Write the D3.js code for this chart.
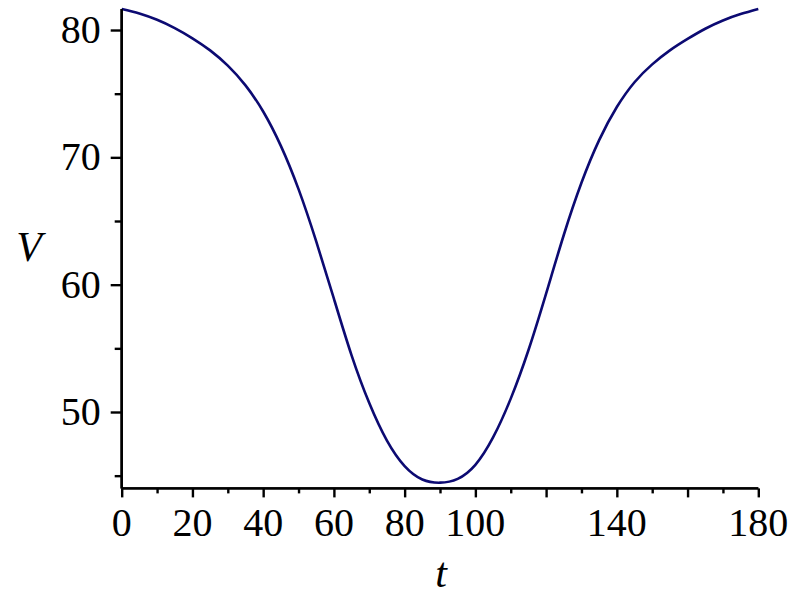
<!DOCTYPE html>
<html>
<head>
<meta charset="utf-8">
<script src="https://cdn.jsdelivr.net/npm/d3@7"></script>
<style>
  html, body { margin: 0; padding: 0; background: #fff; }
  svg { display: block; }
  text { font-family: "Liberation Serif", "Times New Roman", serif; fill: #000; }
</style>
</head>
<body>
<svg id="chart" width="800" height="600"></svg>
<script>
// Data
const tValues = [0, 5, 10, 15, 20, 25, 30, 35, 40, 45, 50, 55, 60, 65, 70, 75, 80, 85, 90,
                 95, 100, 105, 110, 115, 120, 125, 130, 135, 140, 145, 150, 155, 160, 165, 170, 175, 180];
const vValues = [81.65, 81.3, 80.8, 80.15, 79.35, 78.4, 77.2, 75.65, 73.6, 70.9, 67.5, 63.4, 58.9, 54.45, 50.7, 47.75, 45.75, 44.7, 44.45,
                 44.75, 45.85, 48.0, 51.05, 54.85, 59.3, 63.9, 68.0, 71.35, 73.95, 75.9, 77.3, 78.4, 79.3, 80.1, 80.75, 81.25, 81.65];
const xMajorTicks = [0, 20, 40, 60, 80, 100, 120, 140, 160, 180];
const xMinorTicks = [10, 30, 50, 70, 90, 110, 130, 150, 170];
const xTickLabels = [0, 20, 40, 60, 80, 100, 140, 180];
const yMajorTicks = [50, 60, 70, 80];
const yMinorTicks = [45, 55, 65, 75];
const xTitle = "t";
const yTitle = "V";

const svg = d3.select("#chart");
const x = d3.scaleLinear().domain([0, 180]).range([121.7, 758.3]);
const y = d3.scaleLinear().domain([44.0, 81.65]).range([488.4, 9.0]);

const data = tValues.map((t, i) => ({ t, v: vValues[i] }));

// Curve
const line = d3.line().x(d => x(d.t)).y(d => y(d.v)).curve(d3.curveNatural);
svg.append("path")
  .datum(data)
  .attr("d", line)
  .attr("fill", "none")
  .attr("stroke", "#0c0a72")
  .attr("stroke-width", 2.6)
  .attr("stroke-linejoin", "round");

// X axis
const gx = svg.append("g").attr("transform", `translate(0,${y(44.0)})`);
gx.call(d3.axisBottom(x).tickValues(xMajorTicks).tickSize(9).tickFormat(""));
gx.append("g").call(d3.axisBottom(x).tickValues(xMinorTicks).tickSize(5).tickFormat(""));
gx.selectAll(".domain").attr("stroke-width", 2.4).attr("d", `M${x(0)},0H${x(180)}`);
gx.selectAll(".tick line").attr("stroke", "#000").attr("stroke-width", 2.4);
gx.selectAll(".tick text").remove();
gx.selectAll(".xl").data(xTickLabels).enter().append("text")
  .attr("class", "xl")
  .attr("x", d => x(d))
  .attr("y", 48)
  .attr("text-anchor", "middle")
  .attr("font-size", 40)
  .text(d => d);

// Y axis
const gy = svg.append("g").attr("transform", `translate(${x(0)},0)`);
gy.call(d3.axisLeft(y).tickValues(yMajorTicks).tickSize(11).tickFormat(""));
gy.append("g").call(d3.axisLeft(y).tickValues(yMinorTicks).tickSize(7).tickFormat(""));
gy.selectAll(".domain").attr("stroke-width", 2.4).attr("d", `M0,${y(81.65)}V${y(44.0)}`);
gy.selectAll(".tick line").attr("stroke", "#000").attr("stroke-width", 2.4);
gy.selectAll(".yl").data(yMajorTicks).enter().append("text")
  .attr("class", "yl")
  .attr("x", -21)
  .attr("y", d => y(d) + 13)
  .attr("text-anchor", "end")
  .attr("font-size", 40)
  .text(d => d);

// Titles
svg.append("text")
  .attr("x", 441).attr("y", 587)
  .attr("text-anchor", "middle")
  .attr("font-size", 42)
  .attr("font-style", "italic")
  .text(xTitle);
svg.append("text")
  .attr("x", 29).attr("y", 261)
  .attr("text-anchor", "middle")
  .attr("font-size", 42)
  .attr("font-style", "italic")
  .text(yTitle);
</script>
</body>
</html>
